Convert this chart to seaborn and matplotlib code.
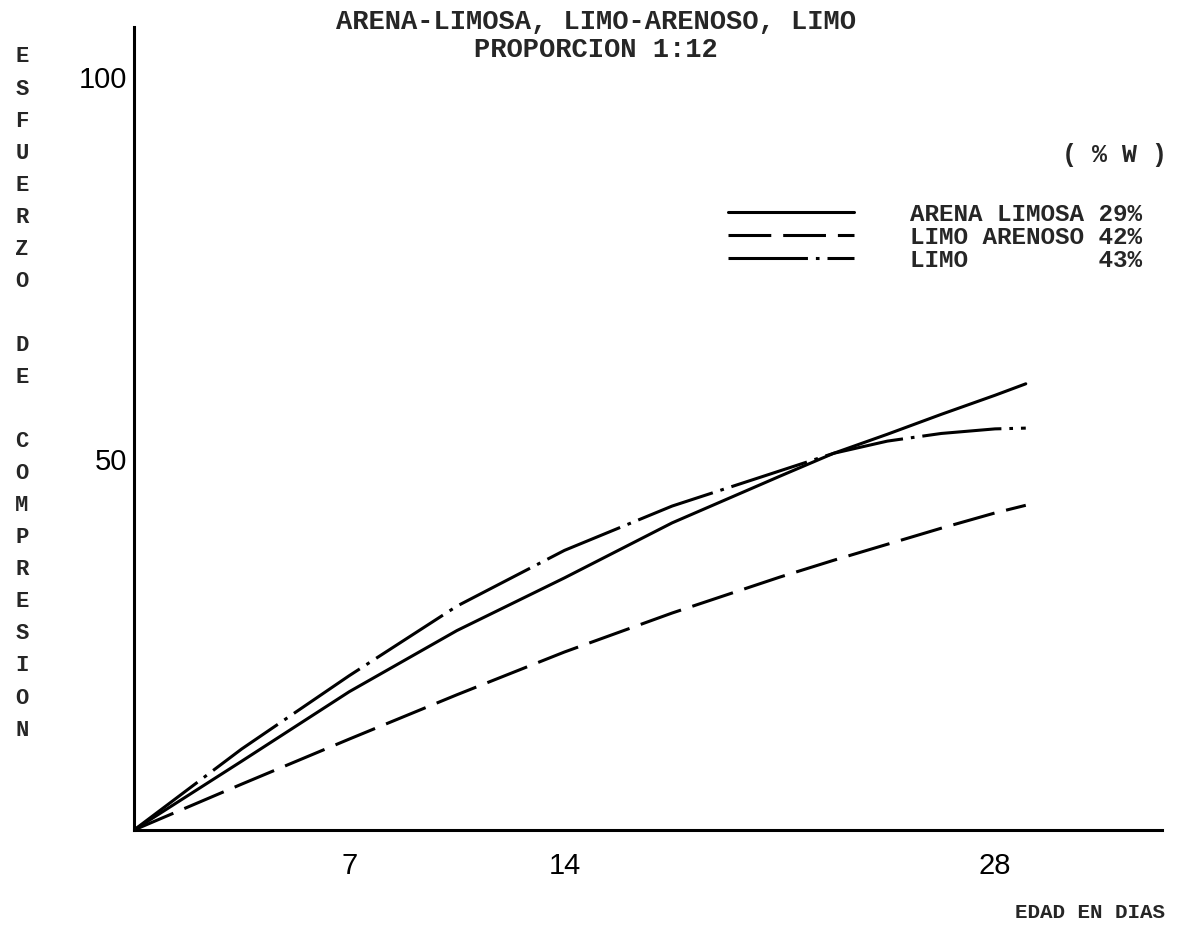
import matplotlib

matplotlib.use("Agg")
import matplotlib.pyplot as plt
import pandas as pd
import seaborn as sns

# Values (edad en dias vs esfuerzo de compresion)
dias = [0, 3.5, 7, 10.5, 14, 17.5, 21, 22.75, 24.5, 26.25, 28, 29]
arena_limosa = [0, 9.0, 18.1, 26.1, 33.0, 40.2, 46.3, 49.3, 51.8, 54.4, 56.9, 58.4]
limo_arenoso = [0, 6.0, 11.9, 17.7, 23.3, 28.4, 33.1, 35.3, 37.4, 39.5, 41.5, 42.5]
limo = [0, 10.6, 20.2, 29.3, 36.6, 42.4, 47.0, 49.3, 50.9, 51.9, 52.5, 52.6]

etiquetas = ["ARENA LIMOSA 29%", "LIMO ARENOSO 42%", "LIMO         43%"]
x_ticks = [7, 14, 28]
y_ticks = [50, 100]
titulo = ["ARENA-LIMOSA, LIMO-ARENOSO, LIMO", "PROPORCION 1:12"]
ylabel = "ESFUERZO DE COMPRESION"
xlabel = "EDAD EN DIAS"

sns.set_style("white")
plt.rcParams["font.family"] = ["Liberation Mono", "DejaVu Sans Mono"]

W, H = 1177, 938
fig = plt.figure(figsize=(W / 100, H / 100), dpi=100)
# axes box in pixels: origin (134, 830), top 27, right 1162
ax = fig.add_axes([134 / W, 1 - 830 / H, (1162 - 134) / W, (830 - 27) / H])

lw = 2.2
estilos = ["-", (0, (14, 3.9)), (0, (26, 2.6, 1.2, 2.6))]
for serie, label, ls in zip([arena_limosa, limo_arenoso, limo], etiquetas, estilos):
    df = pd.DataFrame({"dias": dias, "esfuerzo": serie})
    sns.lineplot(
        data=df, x="dias", y="esfuerzo", ax=ax, color="black",
        linewidth=lw, linestyle=ls, label=label,
    )

ax.set_xlim(0, 33.43)
ax.set_ylim(0, 105.1)
ax.set_xlabel("")
ax.set_ylabel("")

for side in ["top", "right"]:
    ax.spines[side].set_visible(False)
for side in ["left", "bottom"]:
    ax.spines[side].set_linewidth(2.2)
    ax.spines[side].set_color("black")

ax.set_xticks(x_ticks)
ax.set_xticklabels([str(t) for t in x_ticks])
ax.set_yticks(y_ticks)
ax.set_yticklabels([str(t) for t in y_ticks])
ax.tick_params(axis="x", direction="inout", length=14, width=2, pad=8.5,
               labelsize=21, colors="black")
ax.tick_params(axis="y", direction="inout", length=8.6, width=2, pad=0.5,
               labelsize=21, colors="black")
for lbl in ax.get_xticklabels() + ax.get_yticklabels():
    lbl.set_family("Liberation Sans")
for lbl in ax.get_yticklabels():
    lbl.set_va("top")

leg = ax.legend(
    loc="upper left",
    bbox_to_anchor=(728 / W, 1 - 203 / H),
    bbox_transform=fig.transFigure,
    frameon=False,
    prop={"family": "Liberation Mono", "weight": "bold", "size": 17.5},
    handlelength=5.2,
    handletextpad=2.3,
    labelspacing=0.0,
    borderpad=0,
    borderaxespad=0,
)
for h in leg.legend_handles:
    h.set_linewidth(lw)

fig.text(1062 / W, 1 - 155 / H, "( % W )", ha="left", va="center",
         fontsize=18, fontweight="bold")

fig.text(596 / W, 1 - 22 / H, titulo[0], ha="center", va="center",
         fontsize=19.5, fontweight="bold")
fig.text(596 / W, 1 - 50 / H, titulo[1], ha="center", va="center",
         fontsize=19.5, fontweight="bold")

# vertical stacked y-axis label, one letter per line
for i, ch in enumerate(ylabel):
    if ch == " ":
        continue
    fig.text(22 / W, 1 - (57 + i * 32.05) / H, ch, ha="center", va="center",
             fontsize=16, fontweight="bold")

fig.text(1165 / W, 1 - 912 / H, xlabel, ha="right", va="center",
         fontsize=15, fontweight="bold")

fig.savefig("out.png", dpi=100)
